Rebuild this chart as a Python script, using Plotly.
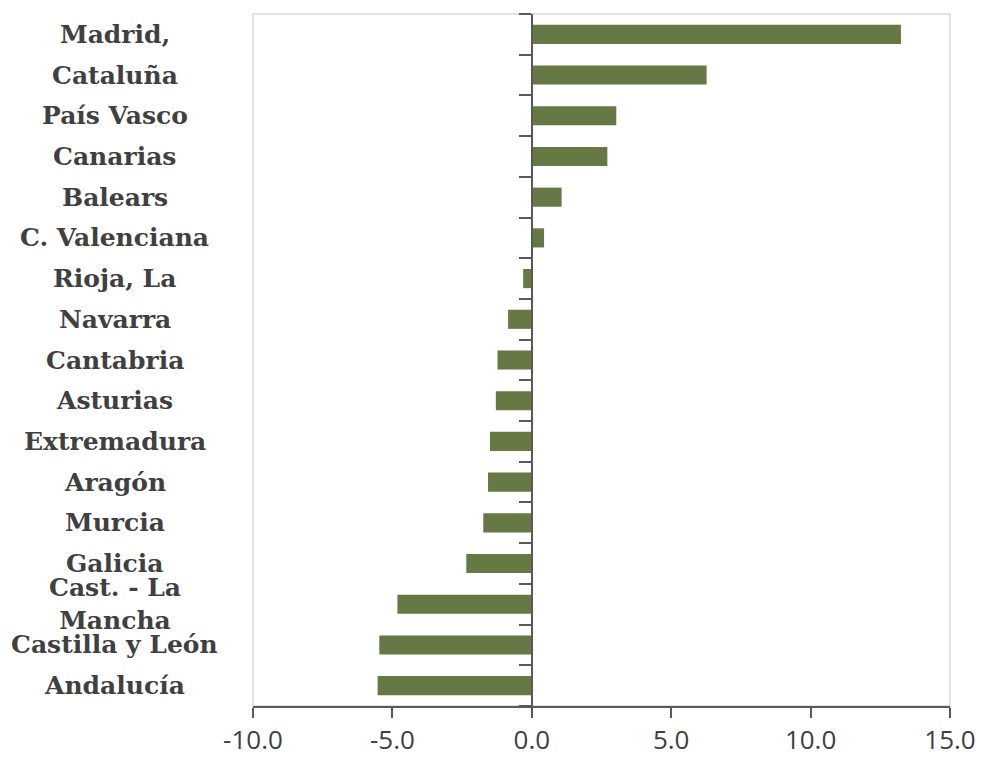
import plotly.graph_objects as go

# Regions (top to bottom) and their values
regions = [
    "Madrid,", "Cataluña", "País Vasco", "Canarias", "Balears",
    "C. Valenciana", "Rioja, La", "Navarra", "Cantabria", "Asturias",
    "Extremadura", "Aragón", "Murcia", "Galicia", "Cast. - La<br>Mancha",
    "Castilla y León", "Andalucía",
]
values = [
    13.24, 6.27, 3.03, 2.71, 1.07,
    0.44, -0.31, -0.85, -1.23, -1.29,
    -1.50, -1.57, -1.74, -2.35, -4.82,
    -5.47, -5.53,
]
x_ticks = [-10, -5, 0, 5, 10, 15]
x_tick_labels = ["-10.0", "-5.0", "0.0", "5.0", "10.0", "15.0"]

x_min, x_max = -10, 15
bar_color = "#667843"
text_color = "#404040"
axis_color = "#595959"

fig = go.Figure()
fig.add_trace(go.Bar(
    x=values,
    y=regions,
    orientation="h",
    marker=dict(color=bar_color, line=dict(width=0)),
    hoverinfo="x+y",
))

# Centered category labels to the left of the plot area
for name in regions:
    fig.add_annotation(
        x=-0.198, xref="paper", xanchor="center",
        y=name, yref="y", yanchor="middle",
        text="<b>" + name + "</b>", showarrow=False,
        font=dict(family="DejaVu Serif", size=25, color=text_color),
        align="center",
    )

# Light frame around the plotting area
fig.add_shape(
    type="rect", xref="paper", yref="paper", x0=0, y0=0, x1=1, y1=1,
    line=dict(color="#d9d9d9", width=1.5), layer="below",
)

fig.update_layout(
    width=982, height=758,
    margin=dict(l=253, r=32, t=14, b=52),
    paper_bgcolor="white", plot_bgcolor="white",
    showlegend=False,
    bargap=0.53,
    xaxis=dict(
        range=[x_min, x_max],
        tickvals=x_ticks, ticktext=x_tick_labels,
        showgrid=False, zeroline=False, automargin=False,
        showline=True, linecolor=axis_color, linewidth=2,
        ticks="outside", ticklen=10, tickwidth=2, tickcolor=axis_color,
        tickfont=dict(family="Open Sans", size=26, color=text_color),
    ),
    yaxis=dict(
        categoryorder="array", categoryarray=regions[::-1],
        anchor="free", position=(0 - x_min) / (x_max - x_min),
        showgrid=False, zeroline=False, automargin=False,
        showline=True, linecolor=axis_color, linewidth=2,
        ticks="outside", tickson="boundaries", ticklen=12, tickwidth=2,
        tickcolor=axis_color,
        showticklabels=False,
    ),
)

fig.write_html("out.html")
